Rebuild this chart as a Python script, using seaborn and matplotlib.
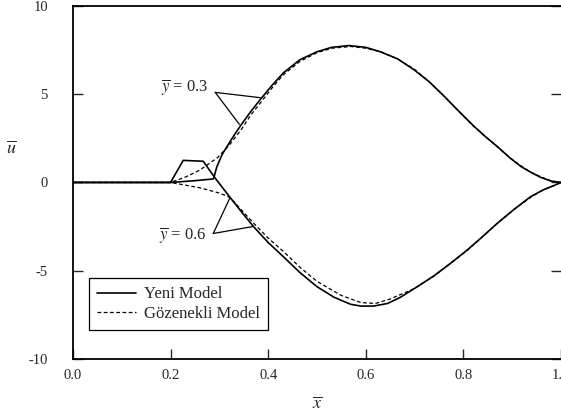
import numpy as np
import pandas as pd
import matplotlib
matplotlib.use("Agg")
import matplotlib.pyplot as plt
import seaborn as sns

# ---- data ----
x_yeni_03 = [0.0, 0.2, 0.25, 0.288, 0.295, 0.306, 0.325, 0.343, 0.364, 0.384, 0.408, 0.431, 0.465, 0.50, 0.53, 0.565, 0.60, 0.630, 0.665, 0.698, 0.730, 0.760, 0.790, 0.821, 0.845, 0.871, 0.895, 0.918, 0.940, 0.959, 0.980, 1.0]
u_yeni_03 = [0.0, 0.0, 0.1, 0.2, 0.9, 1.6, 2.45, 3.2, 4.0, 4.7, 5.5, 6.2, 6.95, 7.4, 7.65, 7.75, 7.65, 7.4, 7.0, 6.4, 5.7, 4.9, 4.05, 3.2, 2.6, 2.0, 1.4, 0.9, 0.55, 0.28, 0.08, 0.0]

x_goz_03 = [0.0, 0.2, 0.23, 0.26, 0.296, 0.32, 0.345, 0.364, 0.384, 0.408, 0.431, 0.465, 0.50, 0.53, 0.57, 0.60, 0.63, 0.665, 0.70, 0.73, 0.76, 0.79, 0.82, 0.845, 0.87, 0.895, 0.92, 0.94, 0.96, 0.98, 1.0]
u_goz_03 = [0.0, 0.0, 0.3, 0.7, 1.4, 2.1, 3.0, 3.8, 4.5, 5.35, 6.1, 6.85, 7.35, 7.6, 7.7, 7.6, 7.4, 7.0, 6.4, 5.7, 4.9, 4.05, 3.2, 2.6, 2.0, 1.4, 0.9, 0.55, 0.3, 0.08, 0.0]

x_yeni_06 = [0.0, 0.2, 0.226, 0.267, 0.29, 0.322, 0.345, 0.37, 0.40, 0.431, 0.465, 0.50, 0.535, 0.569, 0.59, 0.616, 0.645, 0.671, 0.70, 0.739, 0.775, 0.809, 0.84, 0.87, 0.905, 0.938, 0.965, 0.986, 1.0]
u_yeni_06 = [0.0, 0.0, 1.25, 1.2, 0.3, -0.85, -1.65, -2.5, -3.4, -4.2, -5.1, -5.9, -6.5, -6.9, -7.0, -7.0, -6.85, -6.5, -6.0, -5.3, -4.55, -3.8, -3.05, -2.3, -1.5, -0.8, -0.4, -0.17, 0.0]

x_goz_06 = [0.0, 0.2, 0.26, 0.30, 0.322, 0.345, 0.37, 0.40, 0.431, 0.465, 0.50, 0.55, 0.59, 0.62, 0.65, 0.70, 0.74, 0.775, 0.81, 0.84, 0.87, 0.905, 0.94, 0.965, 0.986, 1.0]
u_goz_06 = [0.0, 0.0, -0.3, -0.6, -0.85, -1.55, -2.3, -3.15, -3.9, -4.8, -5.6, -6.4, -6.8, -6.85, -6.6, -6.0, -5.3, -4.55, -3.8, -3.05, -2.3, -1.5, -0.8, -0.4, -0.17, 0.0]

model_labels = ["Yeni Model", "Gözenekli Model"]
x_ticks = [0.0, 0.2, 0.4, 0.6, 0.8, 1.0]
x_ticklabels = ["0.0", "0.2", "0.4", "0.6", "0.8", "1.0"]
y_ticks = [-10, -5, 0, 5, 10]
y_ticklabels = ["-10", "-5", "0", "5", "10"]

# annotation anchor points (data coordinates)
ann_03_text = (0.277, 5.4)
ann_03_apex = (0.2916, 5.1)
ann_03_ends = [(0.384, 4.8), (0.341, 3.29)]
ann_06_text = (0.275, -2.95)
ann_06_apex = (0.2875, -2.89)
ann_06_ends = [(0.322, -0.85), (0.370, -2.49)]

# ---- style ----
sns.set_style("ticks")
plt.rcParams["font.family"] = ["Liberation Serif", "DejaVu Serif"]
plt.rcParams["mathtext.fontset"] = "stix"

fig = plt.figure(figsize=(5.61, 4.18), dpi=100)
ax = fig.add_axes([0.130, 0.141, 0.870, 0.845])

curves = [
    (x_yeni_03, u_yeni_03, model_labels[0], "-"),
    (x_goz_03, u_goz_03, model_labels[1], "--"),
    (x_yeni_06, u_yeni_06, None, "-"),
    (x_goz_06, u_goz_06, None, "--"),
]
for xs, us, lab, ls in curves:
    df = pd.DataFrame({"x": xs, "u": us})
    kw = dict(data=df, x="x", y="u", ax=ax, color="black", sort=False,
              estimator=None, legend=False)
    if ls == "-":
        sns.lineplot(**kw, linewidth=1.2)
        ax.lines[-1].set_linestyle("-")
    else:
        sns.lineplot(**kw, linewidth=0.9)
        ax.lines[-1].set_dashes((3, 2))
    ax.lines[-1].set_solid_joinstyle("round")
    if lab:
        ax.lines[-1].set_label(lab)

ax.set_xlim(0, 1.0)
ax.set_ylim(-10, 10)
ax.set_xticks(x_ticks)
ax.set_xticklabels(x_ticklabels)
ax.set_yticks(y_ticks)
ax.set_yticklabels(y_ticklabels)
ax.tick_params(axis="x", direction="in", length=7, width=1.0, pad=7, labelsize=10.5)
ax.tick_params(axis="y", direction="in", length=7, width=1.0, pad=18, labelsize=10.5,
               right=True)
for side in ["left", "bottom", "top", "right"]:
    ax.spines[side].set_linewidth(1.3)
    ax.spines[side].set_color("black")
ax.spines["right"].set_visible(False)

ax.set_xlabel(r"$\overline{x}$", fontsize=13, labelpad=10)
ax.set_ylabel(r"$\overline{u}$", fontsize=13, rotation=0, labelpad=16)
ax.yaxis.set_label_coords(-0.125, 0.57)

# annotations
ax.text(ann_03_text[0], ann_03_text[1], r"$\overline{y}$ = 0.3", ha="right", va="center",
        fontsize=12)
for end in ann_03_ends:
    ax.annotate("", xy=end, xytext=ann_03_apex,
                arrowprops=dict(arrowstyle="-", color="black", lw=0.9,
                                shrinkA=0, shrinkB=0))
ax.text(ann_06_text[0], ann_06_text[1], r"$\overline{y}$ = 0.6", ha="right", va="center",
        fontsize=12)
for end in ann_06_ends:
    ax.annotate("", xy=end, xytext=ann_06_apex,
                arrowprops=dict(arrowstyle="-", color="black", lw=0.9,
                                shrinkA=0, shrinkB=0))

leg = ax.legend(loc="lower left", bbox_to_anchor=(0.033, 0.082), borderaxespad=0,
                fancybox=False, edgecolor="black", framealpha=1, fontsize=12,
                handlelength=2.3, handletextpad=0.5, borderpad=0.5, labelspacing=0.2)
leg.get_frame().set_linewidth(0.9)

fig.savefig("out.png", dpi=100)
